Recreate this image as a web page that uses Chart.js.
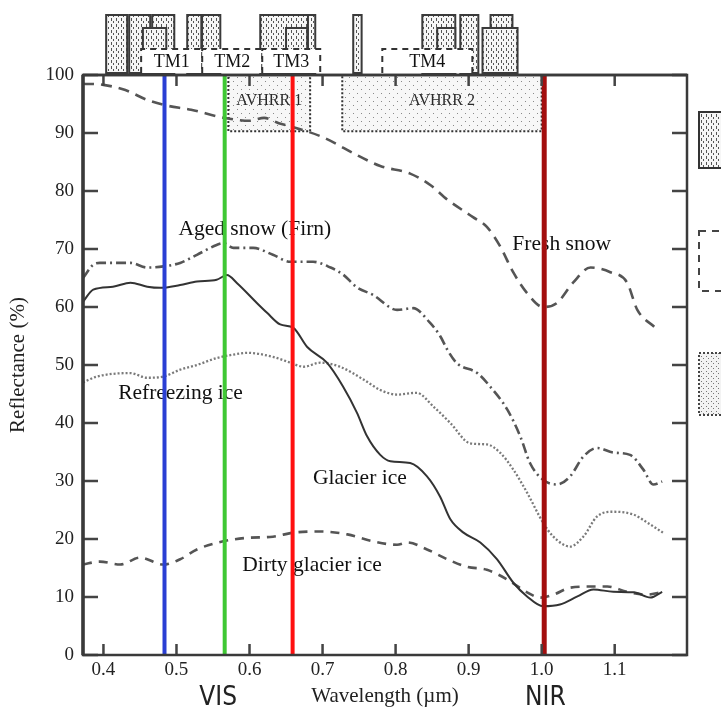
<!DOCTYPE html>
<html>
<head>
<meta charset="utf-8">
<script src="https://cdn.jsdelivr.net/npm/chart.js@4.4.1/dist/chart.umd.min.js"></script>
<style>
  html, body { margin: 0; padding: 0; background: #fff; }
  canvas { display: block; }
</style>
</head>
<body>
<canvas id="c" width="721" height="721"></canvas>
<script>
// ---------------- DATA ----------------
const xTickValues = [0.4, 0.5, 0.6, 0.7, 0.8, 0.9, 1.0, 1.1];
const yTickValues = [0, 10, 20, 30, 40, 50, 60, 70, 80, 90, 100];

const freshSnow = [[0.372,98.5],[0.40,98.3],[0.43,97.4],[0.46,95.7],[0.484,94.8],[0.52,94.0],[0.566,92.6],[0.60,92.1],[0.62,92.6],[0.64,91.7],[0.66,91.0],[0.70,89.3],[0.75,86.0],[0.779,84.3],[0.82,83.0],[0.848,81.0],[0.871,78.5],[0.906,75.5],[0.925,73.8],[0.943,70.5],[0.961,66.0],[0.980,62.4],[1.002,60.0],[1.021,60.7],[1.043,64.2],[1.067,66.8],[1.094,66.0],[1.117,64.2],[1.131,59.5],[1.155,56.5]];

const agedSnow = [[0.372,65.0],[0.386,67.3],[0.395,67.6],[0.437,67.6],[0.460,66.8],[0.482,67.0],[0.505,67.6],[0.528,69.0],[0.555,70.7],[0.564,71.0],[0.578,70.2],[0.605,70.2],[0.632,69.0],[0.656,67.8],[0.687,67.8],[0.711,66.8],[0.728,65.6],[0.747,63.4],[0.769,62.1],[0.802,59.5],[0.824,59.8],[0.847,57.3],[0.861,55.0],[0.871,52.6],[0.884,50.3],[0.912,48.6],[0.930,46.2],[0.953,42.3],[0.971,37.6],[0.984,33.1],[1.002,30.2],[1.021,29.4],[1.039,30.8],[1.057,34.2],[1.076,35.7],[1.098,34.9],[1.121,34.5],[1.139,32.0],[1.153,29.4],[1.165,29.9]];

const glacierIce = [[0.372,60.9],[0.386,63.0],[0.413,63.5],[0.437,64.2],[0.460,63.5],[0.478,63.3],[0.505,63.8],[0.528,64.4],[0.555,64.7],[0.569,65.5],[0.583,64.1],[0.610,60.7],[0.624,59.0],[0.642,57.0],[0.660,56.4],[0.679,53.1],[0.706,50.4],[0.728,46.3],[0.747,41.8],[0.761,37.7],[0.779,34.5],[0.793,33.4],[0.820,33.1],[0.843,30.8],[0.861,27.3],[0.875,23.4],[0.893,21.1],[0.916,19.4],[0.939,16.5],[0.961,12.5],[0.980,10.1],[1.002,8.4],[1.025,8.7],[1.049,10.1],[1.071,11.3],[1.098,10.9],[1.126,10.8],[1.149,9.9],[1.165,10.9]];

const refreezingIce = [[0.372,47.0],[0.391,48.0],[0.437,48.6],[0.460,47.8],[0.482,48.0],[0.505,49.2],[0.528,50.0],[0.555,51.2],[0.578,51.8],[0.597,52.1],[0.632,51.4],[0.656,50.4],[0.674,49.7],[0.697,50.4],[0.724,49.7],[0.756,47.5],[0.779,45.7],[0.802,44.9],[0.829,45.2],[0.852,42.8],[0.875,40.0],[0.902,36.5],[0.925,36.3],[0.943,34.9],[0.961,32.0],[0.980,28.0],[1.002,22.8],[1.016,20.4],[1.039,18.7],[1.057,20.4],[1.076,23.9],[1.098,24.7],[1.126,24.2],[1.145,22.8],[1.166,21.1]];

const dirtyGlacierIce = [[0.372,15.6],[0.395,16.1],[0.423,15.6],[0.450,16.8],[0.482,15.6],[0.505,16.5],[0.528,18.2],[0.564,19.6],[0.597,20.2],[0.632,20.4],[0.660,21.1],[0.697,21.3],[0.734,20.8],[0.769,19.6],[0.802,19.0],[0.816,19.4],[0.843,18.2],[0.871,16.5],[0.898,15.2],[0.925,14.7],[0.953,13.0],[0.980,10.8],[0.998,9.9],[1.016,10.4],[1.039,11.6],[1.067,11.8],[1.090,11.8],[1.117,10.9],[1.145,10.4],[1.163,10.8]];

// wavelength markers (µm)
const markerWavelengths = [0.4836, 0.566, 0.659, 1.0035];
const markerColors = ['#2a3fd4', '#3fc834', '#ff1010', '#a30e0e'];

// curve labels: [text, x (µm), y (%) baseline]
const curveLabels = [
  ['Aged snow (Firn)', 0.5026, 72.4],
  ['Fresh snow', 0.9599, 69.8],
  ['Refreezing ice', 0.4201, 44.2],
  ['Glacier ice', 0.687, 29.5],
  ['Dirty glacier ice', 0.590, 14.4]
];

// AVHRR channels: [name, from µm, to µm, bottom %, top %]
const avhrrBands = [
  ['AVHRR 1', 0.571, 0.683, 90.3, 100],
  ['AVHRR 2', 0.727, 1.000, 90.3, 100]
];

// Landsat TM band boxes: [name, from µm, to µm]
const tmBands = [
  ['TM1', 0.4516, 0.5352],
  ['TM2', 0.5352, 0.6174],
  ['TM3', 0.6174, 0.6968],
  ['TM4', 0.7818, 0.9051]
];

// other sensor band rectangles along the top: [from µm, to µm, relative height]
const sensorBands = [
  [0.4037, 0.4325, 1], [0.4352, 0.4640, 1], [0.4667, 0.4970, 1],
  [0.5147, 0.5340, 1], [0.5350, 0.5600, 1],
  [0.6147, 0.6830, 1], [0.6800, 0.6900, 1],
  [0.7420, 0.7535, 1],
  [0.8366, 0.8817, 1], [0.8886, 0.9133, 1], [0.9300, 0.9600, 1],
  [0.4540, 0.4860, 0.776], [0.6500, 0.6790, 0.776],
  [0.8570, 0.8817, 0.776], [0.9190, 0.9670, 0.776]
];

const axisLabelVIS = ['VIS', 0.557];
const axisLabelNIR = ['NIR', 1.005];

// ---------------- STYLE HELPERS ----------------
const SERIF = '"Liberation Serif", "Times New Roman", serif';
const NARROW = '"Liberation Sans Narrow", "DejaVu Sans Condensed", "Liberation Sans", sans-serif';

function makePattern(w, h, bg, draw) {
  const c = document.createElement('canvas');
  c.width = w; c.height = h;
  const g = c.getContext('2d');
  g.fillStyle = bg; g.fillRect(0, 0, w, h);
  draw(g);
  return c;
}
const bandPatternCanvas = makePattern(5, 6, '#f6f6f6', g => {
  g.fillStyle = '#555';
  g.fillRect(1, 0, 1, 3);
  g.fillRect(3, 3, 1, 2);
});
const dotPatternCanvas = makePattern(8, 8, '#f7f7f7', g => {
  g.fillStyle = '#8a8a8a';
  g.fillRect(1, 1, 1, 1);
  g.fillRect(5, 5, 1, 1);
});
const densePatternCanvas = makePattern(5, 5, '#f3f3f3', g => {
  g.fillStyle = '#777';
  g.fillRect(1, 1, 1, 1);
  g.fillRect(3, 3, 1, 1);
});

const ctx = document.getElementById('c').getContext('2d');
const bandPattern = ctx.createPattern(bandPatternCanvas, 'repeat');
const dotPattern = ctx.createPattern(dotPatternCanvas, 'repeat');
const densePattern = ctx.createPattern(densePatternCanvas, 'repeat');

const toPts = arr => arr.map(p => ({ x: p[0], y: p[1] }));

function curve(data, color, width, dash) {
  return {
    data: toPts(data), showLine: true, borderColor: color, borderWidth: width,
    borderDash: dash, pointRadius: 0, cubicInterpolationMode: 'monotone',
    fill: false, order: 2
  };
}

const datasets = [
  curve(freshSnow, '#555', 2.6, [11, 7]),
  curve(agedSnow, '#555', 2.6, [10, 4, 2, 4]),
  curve(glacierIce, '#333', 2, []),
  curve(refreezingIce, '#7a7a7a', 2.3, [2, 2]),
  curve(dirtyGlacierIce, '#555', 2.6, [9, 7])
];
markerWavelengths.forEach((w, i) => {
  datasets.push({
    data: [{ x: w, y: 0 }, { x: w, y: 100 }], showLine: true,
    borderColor: markerColors[i], borderWidth: i === 3 ? 5 : 4,
    pointRadius: 0, order: 1
  });
});

// ---------------- DECORATION PLUGIN ----------------
const deco = {
  id: 'deco',
  beforeDatasetsDraw(chart) {
    const { ctx, scales: { x, y } } = chart;
    ctx.save();
    // AVHRR channel boxes
    avhrrBands.forEach(b => {
      const x0 = x.getPixelForValue(b[1]), x1 = x.getPixelForValue(b[2]);
      const y0 = y.getPixelForValue(b[4]), y1 = y.getPixelForValue(b[3]);
      ctx.fillStyle = dotPattern;
      ctx.fillRect(x0, y0, x1 - x0, y1 - y0);
      ctx.setLineDash([2, 2]);
      ctx.lineWidth = 2;
      ctx.strokeStyle = '#333';
      ctx.strokeRect(x0, y0, x1 - x0, y1 - y0);
      ctx.setLineDash([]);
      ctx.fillStyle = '#2a2a2a';
      ctx.font = '16px ' + SERIF;
      ctx.textAlign = 'center';
      ctx.textBaseline = 'middle';
      ctx.fillText(b[0], (x0 + x1) / 2, (y0 + y1) / 2 - 2);
    });
    // curve labels
    ctx.fillStyle = '#111';
    ctx.font = '21.5px ' + SERIF;
    ctx.textAlign = 'left';
    ctx.textBaseline = 'alphabetic';
    curveLabels.forEach(l => {
      ctx.fillText(l[0], x.getPixelForValue(l[1]), y.getPixelForValue(l[2]));
    });
    ctx.restore();
  },
  afterDraw(chart) {
    const { ctx, chartArea: a, scales: { x, y } } = chart;
    ctx.save();
    // inward tick marks on all four sides
    ctx.strokeStyle = '#444';
    ctx.lineWidth = 2.5;
    ctx.beginPath();
    x.ticks.forEach(t => {
      const px = x.getPixelForValue(t.value);
      ctx.moveTo(px, a.bottom); ctx.lineTo(px, a.bottom - 11);
      ctx.moveTo(px, a.top); ctx.lineTo(px, a.top + 11);
    });
    y.ticks.forEach(t => {
      const py = y.getPixelForValue(t.value);
      ctx.moveTo(a.left, py); ctx.lineTo(a.left + 15, py);
      ctx.moveTo(a.right, py); ctx.lineTo(a.right - 15, py);
    });
    ctx.stroke();
    // frame
    ctx.strokeStyle = '#3a3a3a';
    ctx.lineWidth = 2.5;
    ctx.strokeRect(a.left, a.top, a.right - a.left, a.bottom - a.top);
    ctx.lineWidth = 3.5;
    ctx.beginPath();
    ctx.moveTo(a.left, a.top); ctx.lineTo(a.left, a.bottom);
    ctx.stroke();

    // sensor bands on top strip
    const stripBottom = a.top - 2, stripH = 58;
    const sorted = sensorBands.slice().sort((p, q) => q[2] - p[2]);
    sorted.forEach(b => {
      const x0 = x.getPixelForValue(b[0]), x1 = x.getPixelForValue(b[1]);
      const top = stripBottom - stripH * b[2];
      ctx.fillStyle = bandPattern;
      ctx.fillRect(x0, top, x1 - x0, stripBottom - top);
      ctx.strokeStyle = '#3a3a3a';
      ctx.lineWidth = 2;
      ctx.strokeRect(x0, top, x1 - x0, stripBottom - top);
    });
    // TM band boxes
    tmBands.forEach(b => {
      const x0 = x.getPixelForValue(b[1]), x1 = x.getPixelForValue(b[2]);
      const top = stripBottom - 24;
      ctx.fillStyle = '#fff';
      ctx.fillRect(x0, top, x1 - x0, stripBottom - top);
      ctx.strokeStyle = '#333';
      ctx.lineWidth = 2;
      ctx.setLineDash([6, 5]);
      ctx.beginPath();
      ctx.moveTo(x0, stripBottom); ctx.lineTo(x0, top); ctx.lineTo(x1, top); ctx.lineTo(x1, stripBottom);
      ctx.stroke();
      ctx.setLineDash([]);
      ctx.fillStyle = '#111';
      ctx.font = '18px ' + SERIF;
      ctx.textAlign = 'center';
      ctx.textBaseline = 'middle';
      ctx.fillText(b[0], (x0 + x1) / 2, top + 13);
    });
    // axis line under the strip
    ctx.strokeStyle = '#3a3a3a';
    ctx.lineWidth = 2.5;
    ctx.beginPath();
    ctx.moveTo(a.left, a.top); ctx.lineTo(a.right, a.top);
    ctx.stroke();

    // VIS / NIR region labels
    ctx.fillStyle = '#222';
    ctx.font = '26px ' + NARROW;
    ctx.textAlign = 'center';
    ctx.textBaseline = 'middle';
    [axisLabelVIS, axisLabelNIR].forEach(l => {
      ctx.fillText(l[0], x.getPixelForValue(l[1]), 698);
    });

    // legend symbols (cut at the right edge)
    const lx = a.right + 12;
    ctx.fillStyle = bandPattern;
    ctx.fillRect(lx, 112, 40, 56);
    ctx.strokeStyle = '#333'; ctx.lineWidth = 2;
    ctx.strokeRect(lx, 112, 40, 56);
    ctx.setLineDash([7, 6]);
    ctx.strokeStyle = '#444';
    ctx.strokeRect(lx, 231, 40, 60);
    ctx.setLineDash([2, 2]);
    ctx.fillStyle = densePattern;
    ctx.fillRect(lx, 353, 40, 62);
    ctx.strokeRect(lx, 353, 40, 62);
    ctx.setLineDash([]);
    ctx.restore();
  }
};

// ---------------- CHART ----------------
new Chart(ctx, {
  type: 'scatter',
  data: { datasets },
  plugins: [deco],
  options: {
    responsive: false,
    animation: false,
    events: [],
    layout: { padding: { top: 75, right: 34, left: 0, bottom: 0 } },
    plugins: { legend: { display: false }, tooltip: { enabled: false } },
    scales: {
      x: {
        type: 'linear', min: 0.372, max: 1.199,
        afterBuildTicks: s => { s.ticks = xTickValues.map(v => ({ value: v })); },
        afterFit: s => { s.height = 66; },
        grid: { display: false, drawTicks: false },
        border: { display: false },
        ticks: {
          callback: v => Number(v).toFixed(1),
          font: { family: SERIF, size: 19 }, color: '#222', padding: 4,
          maxRotation: 0, autoSkip: false
        },
        title: {
          display: true, text: 'Wavelength (µm)', color: '#222',
          font: { family: SERIF, size: 21 }, padding: { top: 0, bottom: 12 }
        }
      },
      y: {
        type: 'linear', min: 0, max: 100,
        afterBuildTicks: s => { s.ticks = yTickValues.map(v => ({ value: v })); },
        afterFit: s => { s.width = 83; },
        grid: { display: false, drawTicks: false },
        border: { display: false },
        ticks: {
          font: { family: SERIF, size: 19 }, color: '#222', padding: 9, autoSkip: false
        },
        title: {
          display: true, text: 'Reflectance (%)', color: '#222',
          font: { family: SERIF, size: 21 }, padding: { top: 6, bottom: 0 }
        }
      }
    }
  }
});
</script>
</body>
</html>
